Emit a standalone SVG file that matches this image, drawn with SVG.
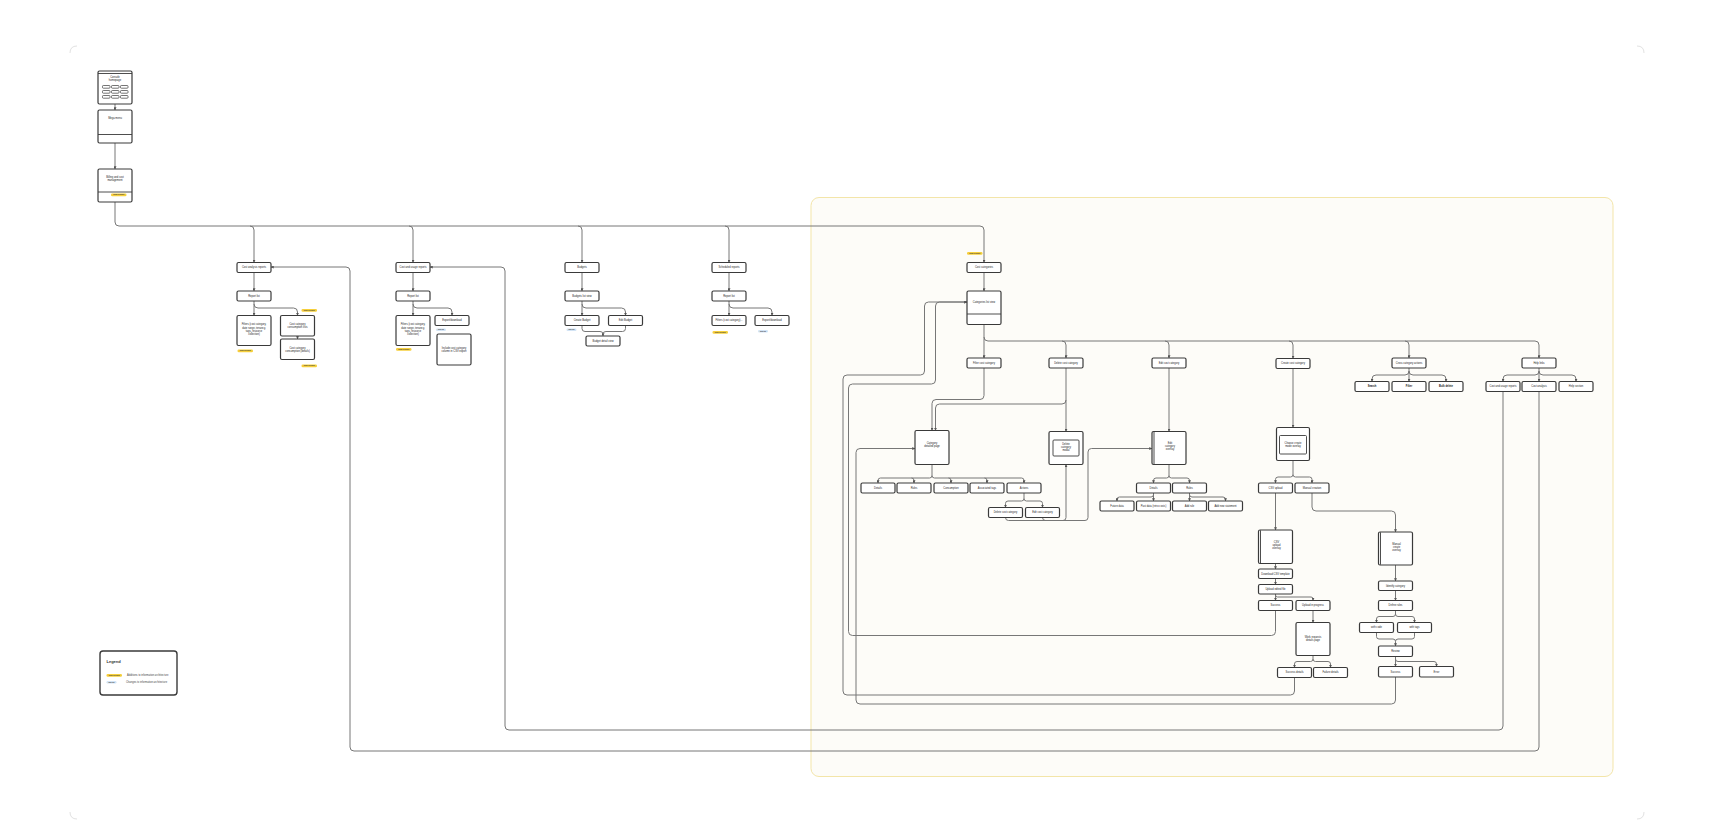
<svg xmlns="http://www.w3.org/2000/svg" width="1730" height="840" viewBox="0 0 1730 840">
<style>
.n{fill:#fff;stroke:#3a3a3a;stroke-width:1.2}
.in{fill:#fff;stroke:#3a3a3a;stroke-width:0.9}
.d{fill:none;stroke:#3a3a3a;stroke-width:0.9}
.c{fill:none;stroke:#777;stroke-width:1}
.ca{fill:none;stroke:#777;stroke-width:1;marker-end:url(#a)}
.t{font-family:"Liberation Sans",Arial,sans-serif;font-size:2.6px;fill:#222;text-anchor:middle}
.tb{font-family:"Liberation Sans",Arial,sans-serif;font-size:2.6px;fill:#111;text-anchor:middle;font-weight:bold}
.bt{font-family:"Liberation Sans",Arial,sans-serif;font-size:1.5px;fill:#333;text-anchor:middle;font-weight:bold}
.y{fill:#f6cf3c}
.b{fill:#d3e4f5}
.lg{font-family:"Liberation Sans",Arial,sans-serif;font-size:2.6px;fill:#444}
.corner{fill:none;stroke:#e2e2e2;stroke-width:1}
</style>
<defs>
<marker id="a" viewBox="0 0 6 6" refX="5.5" refY="3" markerWidth="3" markerHeight="3" orient="auto"><path d="M0,0 L6,3 L0,6 z" fill="#555"/></marker>
</defs>
<rect width="1730" height="840" fill="#fff"/>
<path class="corner" d="M70,53 Q70,46 77,46 M1637,46 Q1644,46 1644,53 M70,812 Q70,819 77,819 M1637,819 Q1644,819 1644,812"/>
<rect x="811" y="197.5" width="802" height="579" rx="8" fill="#fdfcf8" stroke="#f3e5a9" stroke-width="1"/>

<g id="connectors">
<path class="ca" d="M115,104 V110"/>
<path class="ca" d="M115,143 V169"/>
<path class="ca" d="M115,202 V222 Q115,226 119,226 H980 Q984,226 984,230 V262.5"/>
<path class="ca" d="M250,226 Q254,226 254,230 V262.5"/>
<path class="ca" d="M409,226 Q413,226 413,230 V262.5"/>
<path class="ca" d="M578,226 Q582,226 582,230 V262.5"/>
<path class="ca" d="M725,226 Q729,226 729,230 V262.5"/>
<path class="ca" d="M254,272.5 V291"/>
<path class="ca" d="M254,301 V315.5"/>
<path class="ca" d="M254,304 Q254,308 258,308 H293.5 Q297.5,308 297.5,312 V315.5"/>
<path class="ca" d="M297.5,336 V339"/>
<path class="ca" d="M1539,391.5 V747 Q1539,751 1535,751 H354 Q350,751 350,747 V271 Q350,267 346,267 H271"/>
<path class="ca" d="M413,272.5 V291"/>
<path class="ca" d="M413,301 V315.5"/>
<path class="ca" d="M413,304 Q413,308 417,308 H448 Q452,308 452,312 V315.5"/>
<path class="ca" d="M1503,391.5 V726 Q1503,730 1499,730 H509 Q505,730 505,726 V271 Q505,267 501,267 H430"/>
<path class="ca" d="M582,272.5 V291"/>
<path class="ca" d="M582,301 V315.5"/>
<path class="ca" d="M582,304 Q582,308 586,308 H621.5 Q625.5,308 625.5,312 V315.5"/>
<path class="ca" d="M582,325.5 V328.5 Q582,331.5 585,331.5 H600 Q603,331.5 603,334 V336"/>
<path class="c" d="M625.5,325.5 V328.5 Q625.5,331.5 622.5,331.5 H606 Q603,331.5 603,334"/>
<path class="ca" d="M729,272.5 V291"/>
<path class="ca" d="M729,301 V315.5"/>
<path class="ca" d="M729,304 Q729,308 733,308 H768 Q772,308 772,312 V315.5"/>
<path class="ca" d="M984,272.5 V291"/>
<path class="ca" d="M984,324.5 V358"/>
<path class="ca" d="M984,337 Q984,341 988,341 H1535 Q1539,341 1539,345 V358"/>
<path class="ca" d="M1062,341 Q1066,341 1066,345 V358"/>
<path class="ca" d="M1165,341 Q1169,341 1169,345 V358"/>
<path class="ca" d="M1289,341 Q1293,341 1293,345 V358.5"/>
<path class="ca" d="M1405,341 Q1409,341 1409,345 V358"/>
<path class="ca" d="M1409,368 V381.5"/>
<path class="ca" d="M1409,371 Q1409,375 1405,375 H1376 Q1372,375 1372,379 V381.5"/>
<path class="ca" d="M1409,371 Q1409,375 1413,375 H1442 Q1446,375 1446,379 V381.5"/>
<path class="ca" d="M1539,368 V381.5"/>
<path class="ca" d="M1539,371 Q1539,375 1535,375 H1507 Q1503,375 1503,379 V381.5"/>
<path class="ca" d="M1539,371 Q1539,375 1543,375 H1572 Q1576,375 1576,379 V381.5"/>
<path class="ca" d="M984,368 V395.5 Q984,399.5 980,399.5 H936 Q932,399.5 932,403.5 V430.5"/>
<path class="ca" d="M1066,368 V431.5"/>
<path class="ca" d="M1066,400 Q1066,404 1062,404 H939.5 Q935.5,404 935.5,408 V430.5"/>
<path class="ca" d="M1169,368 V431.5"/>
<path class="ca" d="M1293,368.5 V427.5"/>
<path class="ca" d="M932,464.5 V475.5 Q932,478 929.5,478 H880.5 Q878,478 878,480.5 V483"/>
<path class="ca" d="M932,475.5 Q932,478 934.5,478 H1021.5 Q1024,478 1024,480.5 V483"/>
<path class="ca" d="M911.5,478 Q914,478 914,480.5 V483"/>
<path class="ca" d="M948.5,478 Q951,478 951,480.5 V483"/>
<path class="ca" d="M984.5,478 Q987,478 987,480.5 V483"/>
<path class="ca" d="M1024,493 V498.5 Q1024,501 1021.5,501 H1008 Q1005.5,501 1005.5,503.5 V507.5"/>
<path class="ca" d="M1024,498.5 Q1024,501 1026.5,501 H1040 Q1042.5,501 1042.5,503.5 V507.5"/>
<path class="ca" d="M1005.5,517.5 Q1005.5,520.5 1008.5,520.5 H1063 Q1066,520.5 1066,517.5 V464.5"/>
<path class="ca" d="M1042.5,517.5 Q1042.5,520.5 1045.5,520.5 H1085 Q1088,520.5 1088,517.5 V452 Q1088,448.5 1091.5,448.5 H1152"/>
<path class="ca" d="M1169,464.5 V475.5 Q1169,478 1166.5,478 H1156 Q1153.5,478 1153.5,480.5 V483"/>
<path class="ca" d="M1169,475.5 Q1169,478 1171.5,478 H1187 Q1189.5,478 1189.5,480.5 V483"/>
<path class="ca" d="M1153.5,493 V501"/>
<path class="ca" d="M1153.5,494.5 Q1153.5,497 1151,497 H1119.5 Q1117,497 1117,499.5 V501"/>
<path class="ca" d="M1189.5,493 V501"/>
<path class="ca" d="M1189.5,494.5 Q1189.5,497 1192,497 H1223 Q1225.5,497 1225.5,499.5 V501"/>
<path class="ca" d="M1293,460.5 V474.5 Q1293,477 1290.5,477 H1278 Q1275.5,477 1275.5,479.5 V483"/>
<path class="ca" d="M1293,474.5 Q1293,477 1295.5,477 H1309.5 Q1312,477 1312,479.5 V483"/>
<path class="ca" d="M1275.5,493 V530"/>
<path class="ca" d="M1312,493 V507 Q1312,511 1316,511 H1391.5 Q1395.5,511 1395.5,515 V532"/>
<path class="ca" d="M1275.5,563.5 V569"/>
<path class="ca" d="M1275.5,578.5 V584.5"/>
<path class="ca" d="M1275.5,594 V600.5"/>
<path class="ca" d="M1275.5,595 Q1275.5,597 1277.5,597 H1311 Q1313,597 1313,599 V600.5"/>
<path class="ca" d="M1313,610.5 V622.5"/>
<path class="ca" d="M1313,655.5 V659 Q1313,661.5 1310.5,661.5 H1297 Q1294.5,661.5 1294.5,664 V667.5"/>
<path class="ca" d="M1313,659 Q1313,661.5 1315.5,661.5 H1328 Q1330.5,661.5 1330.5,664 V667.5"/>
<path class="ca" d="M1395.5,565 V581"/>
<path class="ca" d="M1395.5,590.5 V600.5"/>
<path class="ca" d="M1395.5,610.5 V614 Q1395.5,616.5 1393,616.5 H1379 Q1376.5,616.5 1376.5,619 V622.5"/>
<path class="ca" d="M1395.5,614 Q1395.5,616.5 1398,616.5 H1412 Q1414.5,616.5 1414.5,619 V622.5"/>
<path class="ca" d="M1376.5,632.5 V636.5 Q1376.5,639 1379,639 H1393 Q1395.5,639 1395.5,641.5 V646"/>
<path class="c" d="M1414.5,632.5 V636.5 Q1414.5,639 1412,639 H1398 Q1395.5,639 1395.5,641.5"/>
<path class="ca" d="M1395.5,656.5 V666.5"/>
<path class="ca" d="M1395.5,659 Q1395.5,661.5 1398,661.5 H1434 Q1436.5,661.5 1436.5,664 V666.5"/>
<path class="ca" d="M1395.5,677 V700 Q1395.5,704 1391.5,704 H860 Q856,704 856,700 V452.5 Q856,448.5 860,448.5 H915"/>
<path class="ca" d="M1294.5,677.5 V691 Q1294.5,695 1290.5,695 H847 Q843,695 843,691 V379 Q843,375 847,375 H920.5 Q924.5,375 924.5,371 V306 Q924.5,302 928.5,302 H967"/>
<path class="ca" d="M1275.5,610.5 V631.5 Q1275.5,635.5 1271.5,635.5 H852.5 Q848.5,635.5 848.5,631.5 V388 Q848.5,384 852.5,384 H931.5 Q935.5,384 935.5,380 V306 Q935.5,302 939.5,302 H967"/>
</g>

<g id="console-homepage">
<rect class="n" x="98" y="71" width="34" height="33" rx="1.5"/>
<path class="d" d="M98,73.5 H132"/>
<text class="t" x="115" y="78">Console</text>
<text class="t" x="115" y="81">homepage</text>
<g fill="#fff" stroke="#3a3a3a" stroke-width="0.7">
<rect x="102.5" y="85.5" width="7.5" height="2.7" rx="0.8"/><rect x="111.5" y="85.5" width="7.5" height="2.7" rx="0.8"/><rect x="120.5" y="85.5" width="7.5" height="2.7" rx="0.8"/>
<rect x="102.5" y="90.5" width="7.5" height="2.7" rx="0.8"/><rect x="111.5" y="90.5" width="7.5" height="2.7" rx="0.8"/><rect x="120.5" y="90.5" width="7.5" height="2.7" rx="0.8"/>
<rect x="102.5" y="95.5" width="7.5" height="2.7" rx="0.8"/><rect x="111.5" y="95.5" width="7.5" height="2.7" rx="0.8"/><rect x="120.5" y="95.5" width="7.5" height="2.7" rx="0.8"/>
</g>
</g>
<g id="mega-menu">
<rect class="n" x="98" y="110" width="34" height="33" rx="1.5"/>
<path class="d" d="M98,134.5 H132"/>
<text class="t" x="115" y="119">Mega menu</text>
</g>
<g id="billing">
<rect class="n" x="98" y="169" width="34" height="33" rx="1.5"/>
<path class="d" d="M98,192 H132"/>
<text class="t" x="115" y="177.5">Billing and cost</text>
<text class="t" x="115" y="180.8">management</text>
<rect class="y" x="111" y="193.5" width="15.5" height="2.7" rx="1.3"/>
<text class="bt" x="118.75" y="195.35">NEW FEATURE</text>
</g>

<g id="cost-analysis-reports"><rect class="n" x="237" y="262.5" width="34" height="10" rx="1.5"/><text class="t" x="254" y="268.4">Cost analysis reports</text></g>
<g id="report-list-1"><rect class="n" x="237" y="291" width="34" height="10" rx="1.5"/><text class="t" x="254" y="296.9">Report list</text></g>
<g id="filters-1"><rect class="n" x="237" y="315.5" width="34" height="30" rx="1.5"/>
<text class="t" x="254" y="325.3">Filters (cost category,</text><text class="t" x="254" y="328.5">date range, tenancy,</text><text class="t" x="254" y="331.7">tags, resource</text><text class="t" x="254" y="334.9">collection)</text>
<rect class="y" x="237.5" y="349.5" width="15.5" height="2.7" rx="1.3"/><text class="bt" x="245.25" y="351.35">NEW FEATURE</text></g>
<g id="consumption-list"><rect class="n" x="280.5" y="315.5" width="34" height="20.5" rx="1.5"/>
<text class="t" x="297.5" y="325">Cost category</text><text class="t" x="297.5" y="328.2">consumption lists</text>
<rect class="y" x="301.5" y="309" width="15.5" height="2.7" rx="1.3"/><text class="bt" x="309.25" y="310.85">NEW FEATURE</text></g>
<g id="consumption-details"><rect class="n" x="280.5" y="339" width="34" height="20.5" rx="1.5"/>
<text class="t" x="297.5" y="348.5">Cost category</text><text class="t" x="297.5" y="351.7">consumption (details)</text>
<rect class="y" x="301.5" y="364.5" width="15.5" height="2.7" rx="1.3"/><text class="bt" x="309.25" y="366.35">NEW FEATURE</text></g>

<g id="cost-usage-reports"><rect class="n" x="396" y="262.5" width="34" height="10" rx="1.5"/><text class="t" x="413" y="268.4">Cost and usage reports</text></g>
<g id="report-list-2"><rect class="n" x="396" y="291" width="34" height="10" rx="1.5"/><text class="t" x="413" y="296.9">Report list</text></g>
<g id="filters-2"><rect class="n" x="396" y="315.5" width="34" height="30" rx="1.5"/>
<text class="t" x="413" y="325.3">Filters (cost category,</text><text class="t" x="413" y="328.5">date range, tenancy,</text><text class="t" x="413" y="331.7">tags, resource</text><text class="t" x="413" y="334.9">collection)</text>
<rect class="y" x="396" y="348" width="15.5" height="2.7" rx="1.3"/><text class="bt" x="403.75" y="349.85">NEW FEATURE</text></g>
<g id="export-2"><rect class="n" x="435" y="315.5" width="34" height="10" rx="1.5"/><text class="t" x="452" y="321.4">Export/download</text>
<rect class="b" x="436" y="328.5" width="10" height="2.5" rx="1.2"/><text class="bt" x="441" y="330.25">UPDATE</text></g>
<g id="include-column"><rect class="n" x="437" y="334" width="34" height="31" rx="1.5"/>
<text class="t" x="454" y="348.5">Include cost category</text><text class="t" x="454" y="351.7">column in CSV export</text></g>

<g id="budgets"><rect class="n" x="565" y="262.5" width="34" height="10" rx="1.5"/><text class="t" x="582" y="268.4">Budgets</text></g>
<g id="budgets-list"><rect class="n" x="565" y="291" width="34" height="10" rx="1.5"/><text class="t" x="582" y="296.9">Budgets list view</text></g>
<g id="create-budget"><rect class="n" x="565" y="315.5" width="34" height="10" rx="1.5"/><text class="t" x="582" y="321.4">Create Budget</text>
<rect class="b" x="566.5" y="328.5" width="10" height="2.5" rx="1.2"/><text class="bt" x="571.5" y="330.25">UPDATE</text></g>
<g id="edit-budget"><rect class="n" x="608.5" y="315.5" width="34" height="10" rx="1.5"/><text class="t" x="625.5" y="321.4">Edit Budget</text></g>
<g id="budget-detail"><rect class="n" x="586" y="336" width="34" height="10" rx="1.5"/><text class="t" x="603" y="341.9">Budget detail view</text></g>

<g id="scheduled-reports"><rect class="n" x="712" y="262.5" width="34" height="10" rx="1.5"/><text class="t" x="729" y="268.4">Scheduled reports</text></g>
<g id="report-list-4"><rect class="n" x="712" y="291" width="34" height="10" rx="1.5"/><text class="t" x="729" y="296.9">Report list</text></g>
<g id="filters-4"><rect class="n" x="712" y="315.5" width="34" height="10" rx="1.5"/><text class="t" x="729" y="321.4">Filters (cost category)...</text>
<rect class="y" x="712.5" y="331" width="15.5" height="2.7" rx="1.3"/><text class="bt" x="720.25" y="332.85">NEW FEATURE</text></g>
<g id="export-4"><rect class="n" x="755" y="315.5" width="34" height="10" rx="1.5"/><text class="t" x="772" y="321.4">Export/download</text>
<rect class="b" x="758" y="330" width="10" height="2.5" rx="1.2"/><text class="bt" x="763" y="331.75">UPDATE</text></g>

<g id="cost-categories"><rect class="y" x="967" y="252" width="15.5" height="2.7" rx="1.3"/><text class="bt" x="974.75" y="253.85">NEW FEATURE</text>
<rect class="n" x="967" y="262.5" width="34" height="10" rx="1.5"/><text class="t" x="984" y="268.4">Cost categories</text></g>
<g id="categories-list"><rect class="n" x="967" y="291" width="34" height="33.5" rx="1.5"/><path class="d" d="M967,314 H1001"/><text class="t" x="984" y="303">Categories list view</text></g>
<g id="filter-cost-category"><rect class="n" x="967" y="358" width="34" height="10" rx="1.5"/><text class="t" x="984" y="363.9">Filter cost category</text></g>
<g id="delete-cost-category"><rect class="n" x="1049" y="358" width="34" height="10" rx="1.5"/><text class="t" x="1066" y="363.9">Delete cost category</text></g>
<g id="edit-cost-category"><rect class="n" x="1152" y="358" width="34" height="10" rx="1.5"/><text class="t" x="1169" y="363.9">Edit cost category</text></g>
<g id="create-cost-category"><rect class="n" x="1276" y="358.5" width="34" height="10" rx="1.5"/><text class="t" x="1293" y="364.4">Create cost category</text></g>
<g id="cross-category"><rect class="n" x="1392" y="358" width="34" height="10" rx="1.5"/><text class="t" x="1409" y="363.9">Cross category actions</text></g>
<g id="help-links"><rect class="n" x="1522" y="358" width="34" height="10" rx="1.5"/><text class="t" x="1539" y="363.9">Help links</text></g>
<g id="search"><rect class="n" x="1355" y="381.5" width="34" height="10" rx="1.5"/><text class="tb" x="1372" y="387.4">Search</text></g>
<g id="filter"><rect class="n" x="1392" y="381.5" width="34" height="10" rx="1.5"/><text class="tb" x="1409" y="387.4">Filter</text></g>
<g id="bulk-delete"><rect class="n" x="1429" y="381.5" width="34" height="10" rx="1.5"/><text class="tb" x="1446" y="387.4">Bulk delete</text></g>
<g id="cur-link"><rect class="n" x="1486" y="381.5" width="34" height="10" rx="1.5"/><text class="t" x="1503" y="387.4">Cost and usage reports</text></g>
<g id="ca-link"><rect class="n" x="1522" y="381.5" width="34" height="10" rx="1.5"/><text class="t" x="1539" y="387.4">Cost analysis</text></g>
<g id="help-section"><rect class="n" x="1559" y="381.5" width="34" height="10" rx="1.5"/><text class="t" x="1576" y="387.4">Help section</text></g>

<g id="category-detail"><rect class="n" x="915" y="430.5" width="34" height="34" rx="1.5"/><text class="t" x="932" y="444">Category</text><text class="t" x="932" y="447.2">detailed page</text></g>
<g id="delete-modal"><rect class="n" x="1049" y="431.5" width="34" height="33" rx="1.5"/><rect class="in" x="1053" y="440" width="26" height="16" rx="1"/><text class="t" x="1066" y="445">Delete</text><text class="t" x="1066" y="448.2">category</text><text class="t" x="1066" y="451.4">modal</text></g>
<g id="edit-overlay"><rect class="n" x="1152" y="431.5" width="34" height="33" rx="1.5"/><path class="d" d="M1154,431.8 V464.2"/><text class="t" x="1170" y="444">Edit</text><text class="t" x="1170" y="447.2">category</text><text class="t" x="1170" y="450.4">overlay</text></g>
<g id="choose-mode"><rect class="n" x="1276.5" y="427.5" width="33" height="33" rx="1.5"/><rect class="in" x="1279.5" y="435.5" width="27" height="18.5" rx="1"/><text class="t" x="1293" y="443.5">Choose create</text><text class="t" x="1293" y="446.7">mode overlay</text></g>

<g id="cd-details"><rect class="n" x="861" y="483" width="34" height="10" rx="1.5"/><text class="t" x="878" y="488.9">Details</text></g>
<g id="cd-rules"><rect class="n" x="897" y="483" width="34" height="10" rx="1.5"/><text class="t" x="914" y="488.9">Rules</text></g>
<g id="cd-consumption"><rect class="n" x="934" y="483" width="34" height="10" rx="1.5"/><text class="t" x="951" y="488.9">Consumption</text></g>
<g id="cd-tags"><rect class="n" x="970" y="483" width="34" height="10" rx="1.5"/><text class="t" x="987" y="488.9">Associated tags</text></g>
<g id="cd-actions"><rect class="n" x="1007" y="483" width="34" height="10" rx="1.5"/><text class="t" x="1024" y="488.9">Actions</text></g>
<g id="act-delete"><rect class="n" x="988.5" y="507.5" width="34" height="10" rx="1.5"/><text class="t" x="1005.5" y="513.4">Delete cost category</text></g>
<g id="act-edit"><rect class="n" x="1025.5" y="507.5" width="34" height="10" rx="1.5"/><text class="t" x="1042.5" y="513.4">Edit cost category</text></g>

<g id="eo-details"><rect class="n" x="1136.5" y="483" width="34" height="10" rx="1.5"/><text class="t" x="1153.5" y="488.9">Details</text></g>
<g id="eo-rules"><rect class="n" x="1172.5" y="483" width="34" height="10" rx="1.5"/><text class="t" x="1189.5" y="488.9">Rules</text></g>
<g id="future-data"><rect class="n" x="1100" y="501" width="34" height="10" rx="1.5"/><text class="t" x="1117" y="506.9">Future data</text></g>
<g id="past-data"><rect class="n" x="1136.5" y="501" width="34" height="10" rx="1.5"/><text class="t" x="1153.5" y="506.9">Past data (retro costs)</text></g>
<g id="add-rule"><rect class="n" x="1172.5" y="501" width="34" height="10" rx="1.5"/><text class="t" x="1189.5" y="506.9">Add rule</text></g>
<g id="add-statement"><rect class="n" x="1208.5" y="501" width="34" height="10" rx="1.5"/><text class="t" x="1225.5" y="506.9">Add new statement</text></g>

<g id="csv-upload"><rect class="n" x="1258.5" y="483" width="34" height="10" rx="1.5"/><text class="t" x="1275.5" y="488.9">CSV upload</text></g>
<g id="manual-creation"><rect class="n" x="1295" y="483" width="34" height="10" rx="1.5"/><text class="t" x="1312" y="488.9">Manual creation</text></g>
<g id="csv-overlay"><rect class="n" x="1258.5" y="530" width="34" height="33.5" rx="1.5"/><path class="d" d="M1260.5,530.3 V563.2"/><text class="t" x="1276.5" y="543">CSV</text><text class="t" x="1276.5" y="546.2">upload</text><text class="t" x="1276.5" y="549.4">overlay</text></g>
<g id="download-template"><rect class="n" x="1258.5" y="569" width="34" height="9.5" rx="1.5"/><text class="t" x="1275.5" y="574.6">Download CSV template</text></g>
<g id="upload-edited"><rect class="n" x="1258.5" y="584.5" width="34" height="9.5" rx="1.5"/><text class="t" x="1275.5" y="590.1">Upload edited file</text></g>
<g id="csv-success"><rect class="n" x="1258.5" y="600.5" width="34" height="10" rx="1.5"/><text class="t" x="1275.5" y="606.4">Success</text></g>
<g id="upload-progress"><rect class="n" x="1296" y="600.5" width="34" height="10" rx="1.5"/><text class="t" x="1313" y="606.4">Upload in progress</text></g>
<g id="work-requests"><rect class="n" x="1296" y="622.5" width="34" height="33" rx="1.5"/><text class="t" x="1313" y="637.5">Work requests</text><text class="t" x="1313" y="640.7">details page</text></g>
<g id="success-details"><rect class="n" x="1277.5" y="667.5" width="34" height="10" rx="1.5"/><text class="t" x="1294.5" y="673.4">Success details</text></g>
<g id="failure-details"><rect class="n" x="1313.5" y="667.5" width="34" height="10" rx="1.5"/><text class="t" x="1330.5" y="673.4">Failure details</text></g>

<g id="manual-overlay"><rect class="n" x="1378.5" y="532" width="34" height="33" rx="1.5"/><path class="d" d="M1380.5,532.3 V564.7"/><text class="t" x="1396.5" y="545">Manual</text><text class="t" x="1396.5" y="548.2">create</text><text class="t" x="1396.5" y="551.4">overlay</text></g>
<g id="identify-category"><rect class="n" x="1378.5" y="581" width="34" height="9.5" rx="1.5"/><text class="t" x="1395.5" y="586.6">Identify category</text></g>
<g id="define-rules"><rect class="n" x="1378.5" y="600.5" width="34" height="10" rx="1.5"/><text class="t" x="1395.5" y="606.4">Define rules</text></g>
<g id="with-code"><rect class="n" x="1359.5" y="622.5" width="34" height="10" rx="1.5"/><text class="t" x="1376.5" y="628.4">with code</text></g>
<g id="with-tags"><rect class="n" x="1397.5" y="622.5" width="34" height="10" rx="1.5"/><text class="t" x="1414.5" y="628.4">with tags</text></g>
<g id="review"><rect class="n" x="1378.5" y="646" width="34" height="10.5" rx="1.5"/><text class="t" x="1395.5" y="652.1">Review</text></g>
<g id="manual-success"><rect class="n" x="1378.5" y="666.5" width="34" height="10.5" rx="1.5"/><text class="t" x="1395.5" y="672.6">Success</text></g>
<g id="manual-error"><rect class="n" x="1419.5" y="666.5" width="34" height="10.5" rx="1.5"/><text class="t" x="1436.5" y="672.6">Error</text></g>

<g id="legend">
<rect x="100" y="651" width="77" height="44" rx="3" fill="#fff" stroke="#3a3a3a" stroke-width="1.4"/>
<text x="106.5" y="663" font-family="'Liberation Sans',Arial,sans-serif" font-size="4" font-weight="bold" fill="#333">Legend</text>
<rect class="y" x="106.5" y="674" width="15.5" height="2.7" rx="1.3"/><text class="bt" x="114.25" y="675.85">NEW FEATURE</text>
<text class="lg" x="127" y="676.2">Additions to information architecture</text>
<rect class="b" x="106.5" y="681" width="10" height="2.5" rx="1.2"/><text class="bt" x="111.5" y="682.75">UPDATE</text>
<text class="lg" x="126" y="683.2">Changes to information architecture</text>
</g>
</svg>
